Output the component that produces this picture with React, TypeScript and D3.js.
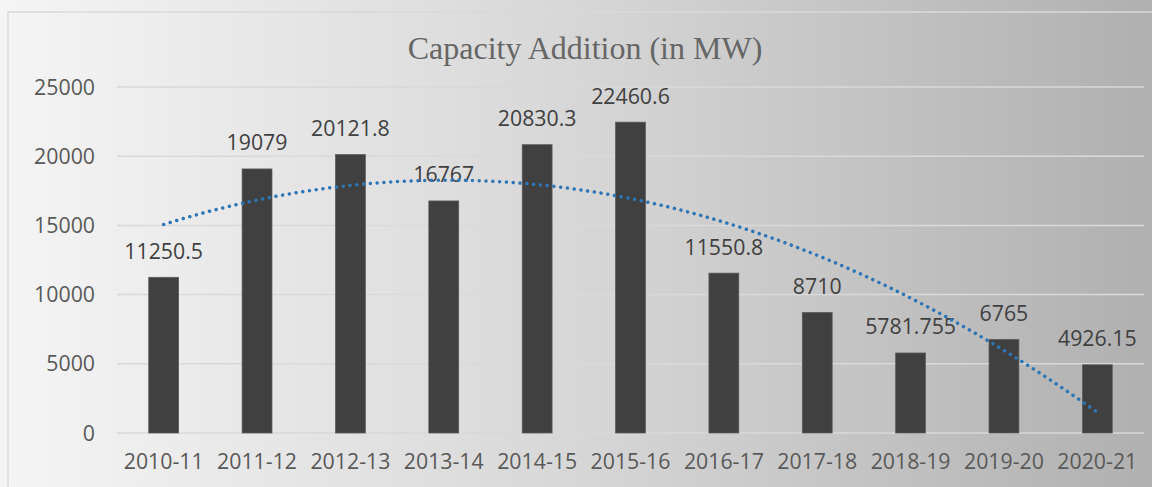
import * as d3 from 'd3';
import React, { useRef, useEffect } from 'react';

const years = ['2010-11', '2011-12', '2012-13', '2013-14', '2014-15', '2015-16', '2016-17', '2017-18', '2018-19', '2019-20', '2020-21'];
const capacity = [11250.5, 19079, 20121.8, 16767, 20830.3, 22460.6, 11550.8, 8710, 5781.755, 6765, 4926.15];
const labels = ['11250.5', '19079', '20121.8', '16767', '20830.3', '22460.6', '11550.8', '8710', '5781.755', '6765', '4926.15'];
const yTicks = [0, 5000, 10000, 15000, 20000, 25000];

// Excel-style polynomial (order 2) trendline, least squares on x = 1..n
const polyFit = (ys: number[]) => {
    let s = [0, 0, 0, 0, 0], t = [0, 0, 0]
    ys.forEach((y, i) => {
        const x = i + 1
        for (let k = 0; k < 5; k++) s[k] += Math.pow(x, k)
        for (let k = 0; k < 3; k++) t[k] += y * Math.pow(x, k)
    })
    const A = [[s[0], s[1], s[2], t[0]], [s[1], s[2], s[3], t[1]], [s[2], s[3], s[4], t[2]]]
    for (let c = 0; c < 3; c++) {
        for (let r = c + 1; r < 3; r++) {
            const f = A[r][c] / A[c][c]
            for (let k = c; k < 4; k++) A[r][k] -= f * A[c][k]
        }
    }
    const b = [0, 0, 0]
    for (let r = 2; r >= 0; r--) {
        let v = A[r][3]
        for (let k = r + 1; k < 3; k++) v -= A[r][k] * b[k]
        b[r] = v / A[r][r]
    }
    return (x: number) => b[0] + b[1] * x + b[2] * x * x
}

const W = 1152
const H = 487
const margin = { top: 87, right: 8, bottom: 54, left: 117 }

const App = () => {
    const ref = useRef<HTMLDivElement>(null)

    useEffect(() => {
        d3.select(ref.current).selectAll('svg').remove()

        const svg = d3.select(ref.current)
            .append('svg')
            .attr('width', W)
            .attr('height', H)
            .style('display', 'block')

        const defs = svg.append('defs')
        const grad = defs.append('linearGradient')
            .attr('id', 'bg')
            .attr('x1', '0%').attr('y1', '0%')
            .attr('x2', '100%').attr('y2', '0%')
        grad.append('stop').attr('offset', '0%').attr('stop-color', '#f5f5f5')
        grad.append('stop').attr('offset', '50%').attr('stop-color', '#d7d7d7')
        grad.append('stop').attr('offset', '100%').attr('stop-color', '#b0b0b0')

        svg.append('rect')
            .attr('width', W)
            .attr('height', H)
            .attr('fill', 'url(#bg)')

        // chart frame
        svg.append('rect')
            .attr('x', 8)
            .attr('y', 12)
            .attr('width', W + 10)
            .attr('height', H + 10)
            .attr('fill', 'none')
            .attr('stroke', '#d9d9d9')
            .attr('stroke-width', 1.5)

        const width = W - margin.left - margin.right
        const height = H - margin.top - margin.bottom
        const g = svg.append('g')
            .attr('transform', `translate(${margin.left},${margin.top})`)

        const x = d3.scaleBand()
            .domain(years)
            .range([0, width])
            .paddingInner(0.68)
            .paddingOuter(0.34)

        const y = d3.scaleLinear()
            .domain([0, 25000])
            .range([height, 0])

        const font = "'Open Sans', sans-serif"
        const fs = '21.3px'

        // gridlines
        g.append('g')
            .selectAll('line')
            .data(yTicks)
            .join('line')
            .attr('x1', 0)
            .attr('x2', width)
            .attr('y1', d => y(d))
            .attr('y2', d => y(d))
            .attr('stroke', '#d9d9d9')
            .attr('stroke-width', 1.5)

        // y labels
        g.append('g')
            .selectAll('text')
            .data(yTicks)
            .join('text')
            .attr('x', -22)
            .attr('y', d => y(d) + 7.5)
            .attr('text-anchor', 'end')
            .style('font-family', font)
            .style('font-size', fs)
            .attr('fill', '#595959')
            .text(d => d)

        // x labels
        g.append('g')
            .selectAll('text')
            .data(years)
            .join('text')
            .attr('x', d => x(d)! + x.bandwidth() / 2)
            .attr('y', height + 36)
            .attr('text-anchor', 'middle')
            .style('font-family', font)
            .style('font-size', fs)
            .attr('fill', '#595959')
            .text(d => d)

        // bars
        g.append('g')
            .selectAll('rect')
            .data(capacity)
            .join('rect')
            .attr('x', (d, i) => x(years[i])!)
            .attr('y', d => y(d))
            .attr('width', x.bandwidth())
            .attr('height', d => height - y(d))
            .attr('fill', '#404040')
            .attr('stroke', '#5a5a5a')
            .attr('stroke-width', 0.75)

        // data labels
        g.append('g')
            .selectAll('text')
            .data(capacity)
            .join('text')
            .attr('x', (d, i) => x(years[i])! + x.bandwidth() / 2)
            .attr('y', d => y(d) - 18.5)
            .attr('text-anchor', 'middle')
            .style('font-family', font)
            .style('font-size', fs)
            .attr('fill', '#404040')
            .text((d, i) => labels[i])

        // trendline
        const fit = polyFit(capacity)
        const xs = d3.range(1, years.length + 0.001, 0.1)
        const line = d3.line<number>()
            .x(t => x(years[0])! + x.bandwidth() / 2 + (t - 1) * x.step())
            .y(t => y(fit(t)))
        g.append('path')
            .datum(xs)
            .attr('d', line)
            .attr('fill', 'none')
            .attr('stroke', '#2e75b6')
            .attr('stroke-width', 3.5)
            .attr('stroke-linecap', 'round')
            .attr('stroke-dasharray', '0.01 6.8')

        // title
        svg.append('text')
            .attr('x', 585)
            .attr('y', 59)
            .attr('text-anchor', 'middle')
            .style('font-family', "'Liberation Serif', serif")
            .style('font-size', '32px')
            .attr('fill', '#666666')
            .text('Capacity Addition (in MW)')
    }, [])

    return <div ref={ref} style={{ position: 'absolute', left: 0, top: 0 }} />
}

export default App
